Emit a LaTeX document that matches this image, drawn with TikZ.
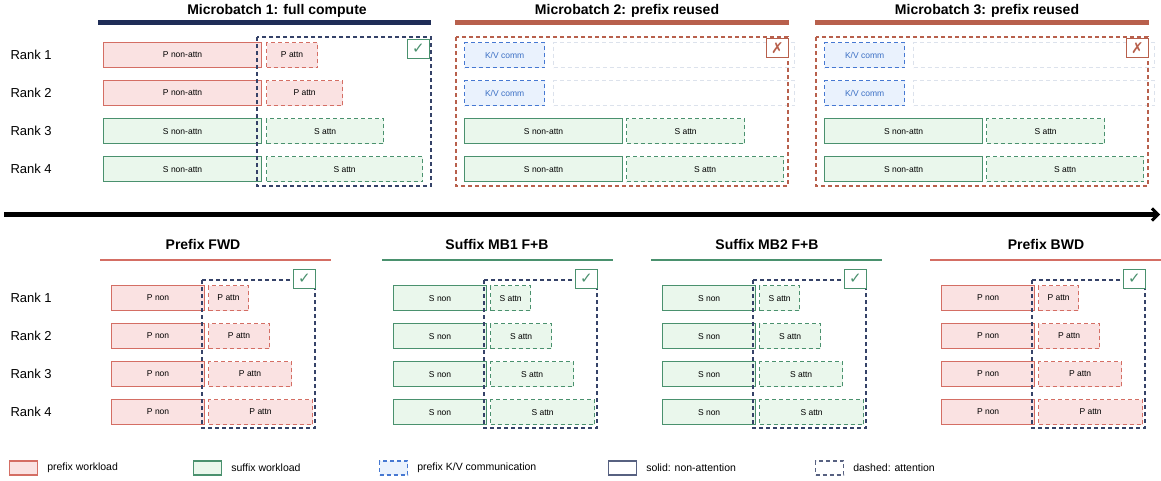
\documentclass[tikz,border=0pt]{standalone}
\usepackage{fontspec}
\setmainfont{Liberation Sans}
\newfontfamily\symfont{DejaVu Sans}
\usetikzlibrary{positioning, calc, arrows.meta}

\definecolor{prefixfill}{HTML}{FAE2E2}
\definecolor{prefixline}{HTML}{D46E64}
\definecolor{suffixfill}{HTML}{EAF7EC}
\definecolor{suffixline}{HTML}{4A916E}
\definecolor{kvfill}{HTML}{EAF2FD}
\definecolor{kvline}{HTML}{4678D2}
\definecolor{kvtext}{HTML}{3B6FC4}
\definecolor{navy}{HTML}{1F2D57}
\definecolor{reused}{HTML}{B8604C}
\definecolor{ghostline}{HTML}{DCE2EC}

\tikzset{
	box/.style={inner sep=0pt, minimum height=25pt, anchor=north west, line width=1.2pt, font=\fontsize{8.5}{10}\selectfont},
	attndash/.style={dash pattern=on 4pt off 3pt},
	pnon/.style={box, draw=prefixline, fill=prefixfill},
	pattn/.style={pnon, attndash},
	snon/.style={box, draw=suffixline, fill=suffixfill},
	sattn/.style={snon, attndash},
	kvbox/.style={box, draw=kvline, fill=kvfill, text=kvtext, attndash},
	ghost/.style={box, draw=ghostline, attndash},
	attnframe/.style={draw=navy!90, line width=1.1pt, attndash},
	reuseframe/.style={draw=reused, line width=1.1pt, attndash},
	okbox/.style={draw=suffixline, fill=white, line width=1.3pt, inner sep=0pt, minimum width=22pt, minimum height=19pt, anchor=north east, text=suffixline, font=\symfont\fontsize{15}{15}\selectfont},
	nobox/.style={okbox, draw=reused, text=reused},
	ranklabel/.style={anchor=west, font=\fontsize{13}{15}\selectfont},
	paneltitle/.style={font=\bfseries\fontsize{14}{16}\selectfont},
	legbox/.style={inner sep=0pt, minimum width=28pt, minimum height=14pt, anchor=west, line width=1.1pt},
	legtext/.style={font=\fontsize{10.5}{12}\selectfont, inner sep=0pt},
	timeline/.style={line width=4.5pt, -{Straight Barb[length=6pt, width=12pt, line width=3pt]}},
}

\begin{document}
\begin{tikzpicture}[x=1pt, y=-1pt]
	\useasboundingbox (0,0) rectangle (1161,480);

	% top row: microbatches
	\foreach \r in {1,...,4}
		\node[ranklabel] (rankT\r) at (7, {54.5+38*(\r-1)}) {Rank \r};

	\node[paneltitle] (titleT1) at (277,11) {Microbatch 1: full compute};
	\draw[navy, line width=4.5pt] (98,22.5) -- (431,22.5);
	\foreach \r/\w in {1/51, 2/76} {
		\node[pnon, minimum width=158pt] (m1non\r) at (103, {42+38*(\r-1)}) {P non-attn};
		\node[pattn, minimum width=\w pt] (m1attn\r) at (266, {42+38*(\r-1)}) {P attn};
	}
	\foreach \r/\w in {3/117, 4/156} {
		\node[snon, minimum width=158pt] (m1non\r) at (103, {42+38*(\r-1)}) {S non-attn};
		\node[sattn, minimum width=\w pt] (m1attn\r) at (266, {42+38*(\r-1)}) {S attn};
	}
	\draw[attnframe] (257,37) rectangle (431,186);
	\node[okbox] (ok1) at (430,39) {✓};

	\foreach \ox/\n in {0/2, 360/3} {
		\node[paneltitle] (titleT\n) at (627+\ox,11) {Microbatch \n: prefix reused};
		\draw[reused, line width=4.5pt] (455+\ox,22.5) -- (789+\ox,22.5);
		\foreach \r in {1,2} {
			\node[kvbox, minimum width=80pt] (m\n kv\r) at (464+\ox, {42+38*(\r-1)}) {K/V comm};
			\node[ghost, minimum width=241pt] (m\n gh\r) at (553+\ox, {42+38*(\r-1)}) {};
		}
		\foreach \r/\w in {3/118, 4/157} {
			\node[snon, minimum width=158pt] (m\n non\r) at (464+\ox, {42+38*(\r-1)}) {S non-attn};
			\node[sattn, minimum width=\w pt] (m\n attn\r) at (626+\ox, {42+38*(\r-1)}) {S attn};
		}
		\draw[reuseframe] (456+\ox,37) rectangle (788+\ox,186);
		\node[nobox] (no\n) at (789+\ox,38) {✗};
	}

	% time axis
	\coordinate (tstart) at (4,214.5);
	\coordinate (tend) at (1160,214.5);
	\draw[timeline] (tstart) -- (tend);

	% bottom row: pipeline stages
	\foreach \r in {1,...,4}
		\node[ranklabel] (rankB\r) at (7, {297.5+38*(\r-1)}) {Rank \r};

	\foreach \ox/\tx/\non/\att/\tag/\col/\name/\title in {
			111/203/pnon/pattn/P/prefixline/fwd/Prefix FWD,
			393/497/snon/sattn/S/suffixline/mbone/Suffix MB1 F+B,
			662/767/snon/sattn/S/suffixline/mbtwo/Suffix MB2 F+B,
			941/1046/pnon/pattn/P/prefixline/bwd/Prefix BWD} {
		\node[paneltitle] (title\name) at (\tx,244) {\title};
		\draw[\col, line width=2pt] (\ox-11,260) -- (\ox+220,260);
		\foreach \r/\w in {1/40, 2/61, 3/83, 4/104} {
			\node[\non, minimum width=93pt] (\name non\r) at (\ox, {285+38*(\r-1)}) {\tag\ non};
			\node[\att, minimum width=\w pt] (\name attn\r) at (\ox+97, {285+38*(\r-1)}) {\tag\ attn};
		}
		\draw[attnframe] (\ox+91,280) rectangle (\ox+204,428);
		\node[okbox] (ok\name) at (\ox+205,269) {✓};
	}

	% legend
	\node[legbox, draw=prefixline, fill=prefixfill] (legP) at (9,468) {};
	\node[legtext, right=9pt of legP] (legPt) {prefix workload};
	\node[legbox, draw=suffixline, fill=suffixfill] (legS) at (193,468) {};
	\node[legtext, right=9pt of legS] (legSt) {suffix workload};
	\node[legbox, draw=kvline, fill=kvfill, attndash] (legK) at (379,468) {};
	\node[legtext, right=9pt of legK] (legKt) {prefix K/V communication};
	\node[legbox, draw=navy!75] (legN) at (608,468) {};
	\node[legtext, right=9pt of legN] (legNt) {solid: non-attention};
	\node[legbox, draw=navy!75, attndash] (legA) at (815,468) {};
	\node[legtext, right=9pt of legA] (legAt) {dashed: attention};
\end{tikzpicture}
\end{document}
